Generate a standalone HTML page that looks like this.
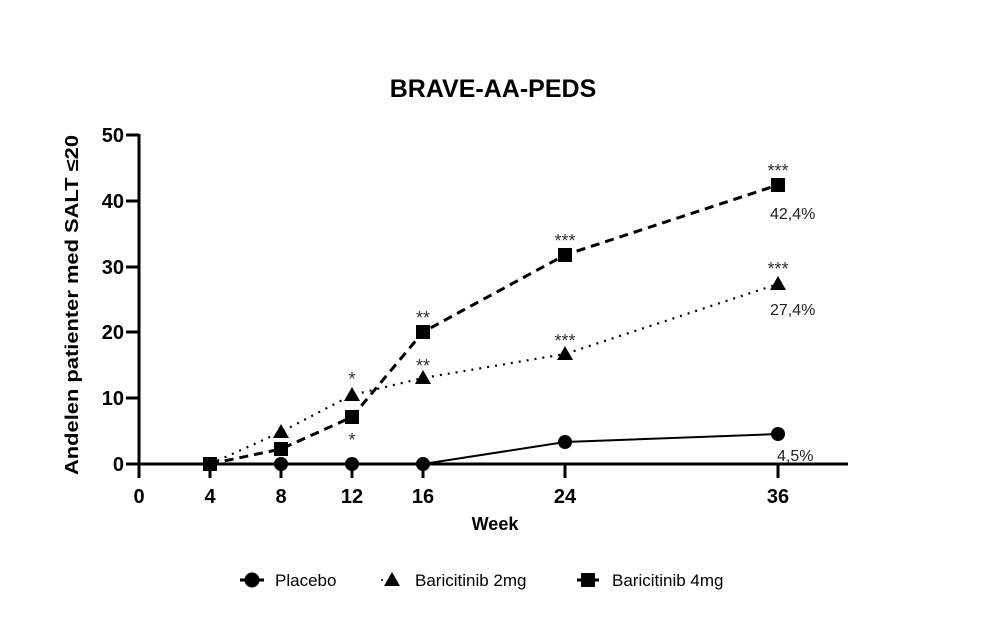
<!DOCTYPE html><html><head><style>body{margin:0;background:#fff}svg{display:block}text{font-family:"Liberation Sans",Arial,sans-serif}</style></head><body>
<svg width="981" height="630" viewBox="0 0 981 630">
<text x="493" y="97" font-size="25" font-weight="bold" text-anchor="middle">BRAVE-AA-PEDS</text>
<g stroke="#000" stroke-width="3">
<line x1="139" y1="134" x2="139" y2="478"/>
<line x1="126" y1="464" x2="848" y2="464"/>
<line x1="126" y1="135" x2="139" y2="135"/><line x1="126" y1="201" x2="139" y2="201"/><line x1="126" y1="267" x2="139" y2="267"/><line x1="126" y1="332" x2="139" y2="332"/><line x1="126" y1="398" x2="139" y2="398"/>
<line x1="210" y1="464" x2="210" y2="478"/><line x1="281" y1="464" x2="281" y2="478"/><line x1="352" y1="464" x2="352" y2="478"/><line x1="423" y1="464" x2="423" y2="478"/><line x1="565" y1="464" x2="565" y2="478"/><line x1="778" y1="464" x2="778" y2="478"/>
</g>
<g font-size="20" font-weight="bold" text-anchor="end">
<text x="124" y="142">50</text><text x="124" y="208">40</text><text x="124" y="274">30</text><text x="124" y="339">20</text><text x="124" y="405">10</text><text x="124" y="471">0</text></g>
<g font-size="20" font-weight="bold" text-anchor="middle">
<text x="139" y="503">0</text><text x="210" y="503">4</text><text x="281" y="503">8</text><text x="352" y="503">12</text><text x="423" y="503">16</text><text x="565" y="503">24</text><text x="778" y="503">36</text>
<text x="495" y="530" font-size="18">Week</text></g>
<text transform="translate(78,305) rotate(-90)" font-size="18" font-weight="bold" text-anchor="middle" textLength="340" lengthAdjust="spacingAndGlyphs">Andelen patienter med SALT ≤20</text>
<g fill="none" stroke="#000">
<polyline stroke-width="2" points="210,464 281,464 352,464 423,464 565,442 778,434"/>
<polyline stroke-width="2.2" stroke-dasharray="2 6" points="210,464 281,432 352,395 423,378 565,354 778,284"/>
<polyline stroke-width="3" stroke-dasharray="9 6" points="210,464 281,449 352,417 423,332 565,255 778,185"/>
</g>
<g fill="#000">
<circle cx="281" cy="464" r="7"/><circle cx="352" cy="464" r="7"/><circle cx="423" cy="464" r="7"/><circle cx="565" cy="442" r="7"/><circle cx="778" cy="434" r="7"/>
<path d="M281,424 l8,14 h-16z M352,387 l8,14 h-16z M423,370 l8,14 h-16z M565,346 l8,14 h-16z M778,276 l8,14 h-16z"/>
<rect x="203" y="457" width="14" height="14"/><rect x="274" y="442" width="14" height="14"/><rect x="345" y="410" width="14" height="14"/><rect x="416" y="325" width="14" height="14"/><rect x="558" y="248" width="14" height="14"/><rect x="771" y="178" width="14" height="14"/>
</g>
<g font-size="18" text-anchor="middle" fill="#333">
<text x="352" y="385">*</text><text x="352" y="446">*</text><text x="423" y="324">**</text><text x="423" y="372">**</text><text x="565" y="247">***</text><text x="565" y="347">***</text><text x="778" y="177">***</text><text x="778" y="275">***</text></g>
<g font-size="16" fill="#222"><text x="770" y="219">42,4%</text><text x="770" y="315">27,4%</text><text x="777" y="461">4,5%</text></g>
<g fill="#000" stroke="#000">
<line x1="240" y1="580" x2="264" y2="580" stroke-width="3"/><circle cx="252" cy="580" r="7"/>
<circle cx="382" cy="580" r="1" stroke="none"/><path d="M392,572 l8,14 h-16z" stroke="none"/>
<line x1="577" y1="580" x2="599" y2="580" stroke-width="3"/><rect x="581" y="573" width="14" height="14" stroke="none"/>
</g>
<g font-size="17"><text x="275" y="586">Placebo</text><text x="415" y="586">Baricitinib 2mg</text><text x="612" y="586">Baricitinib 4mg</text></g>
</svg></body></html>
